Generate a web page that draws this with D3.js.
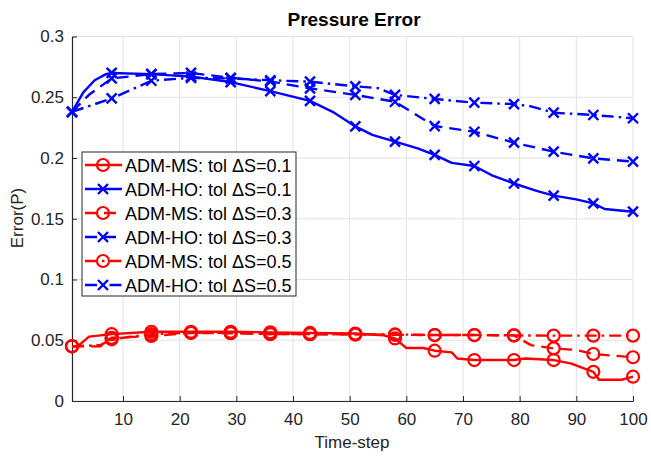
<!DOCTYPE html>
<html>
<head>
<meta charset="utf-8">
<script src="https://cdn.jsdelivr.net/npm/d3@7"></script>
<style>
body{ margin:0; background:#fff; }
svg{ font-family:"Liberation Sans", Arial, sans-serif; }
.grid line{ stroke:#e3e3e3; stroke-width:1; }
.axis path, .axis line{ stroke:#262626; }
.axis text{ fill:#262626; font-size:17px; }
</style>
</head>
<body>
<svg id="chart" width="651" height="457"></svg>
<script>

/// Data (time-step, error)
var xTicks = [10,20,30,40,50,60,70,80,90,100];
var yTicks = [0,0.05,0.1,0.15,0.2,0.25,0.3];
var markerSteps = [1,8,15,22,29,36,43,51,58,65,72,79,86,93,100];

var msSteps01 = [1,2,4,8,15,22,29,36,43,51,56,58,60,63,65,68,69,72,79,81,86,89,93,94,98,100];
var msVals01  = [0.045,0.045,0.053,0.055,0.057,0.057,0.057,0.0565,0.056,0.0555,0.054,0.0515,0.0436,0.0436,0.0414,0.040,0.035,0.0337,0.0337,0.035,0.0337,0.031,0.024,0.0175,0.0175,0.020];

var hoSteps01 = [1,3,5,7,8,15,22,29,36,43,47,51,54,58,62,65,68,72,75,79,83,86,90,93,95,100];
var hoVals01  = [0.238,0.254,0.264,0.269,0.270,0.269,0.267,0.2625,0.255,0.247,0.238,0.226,0.219,0.2134,0.208,0.2025,0.196,0.1934,0.186,0.179,0.173,0.169,0.166,0.1627,0.158,0.1558];

var msSteps03 = [1,6,8,15,22,29,36,43,51,58,65,72,79,82,86,90,93,100];
var msVals03  = [0.045,0.045,0.052,0.0535,0.056,0.0558,0.0552,0.055,0.0548,0.0545,0.0543,0.0543,0.054,0.046,0.0433,0.042,0.0387,0.036];

var hoSteps03 = [1,4,8,15,22,29,36,43,51,58,65,72,79,86,93,100];
var hoVals03  = [0.238,0.252,0.2655,0.269,0.270,0.266,0.263,0.2573,0.2519,0.2463,0.2263,0.2216,0.2126,0.2052,0.1997,0.197];

var msSteps05 = [1,6,8,15,22,29,36,43,51,58,65,72,79,86,93,100];
var msVals05  = [0.045,0.046,0.0508,0.055,0.0563,0.056,0.0551,0.0551,0.0548,0.0548,0.0543,0.0543,0.054,0.0538,0.0538,0.0538];

var hoSteps05 = [1,8,15,22,29,36,43,51,55,58,65,72,79,82,86,93,100];
var hoVals05  = [0.238,0.249,0.2636,0.266,0.2655,0.264,0.2628,0.259,0.2575,0.2519,0.2486,0.2455,0.2444,0.2425,0.2373,0.2354,0.2327];

var labels = ["ADM-MS: tol \u0394S=0.1","ADM-HO: tol \u0394S=0.1",
              "ADM-MS: tol \u0394S=0.3","ADM-HO: tol \u0394S=0.3",
              "ADM-MS: tol \u0394S=0.5","ADM-HO: tol \u0394S=0.5"];

var dashes = {solid:null, dashed:"12,7", dashdot:"12,5,2.5,5"};

var series = [
  {name:labels[0], steps:msSteps01, vals:msVals01, color:"#ff0000", mark:"o", dash:dashes.solid},
  {name:labels[1], steps:hoSteps01, vals:hoVals01, color:"#0000ff", mark:"x", dash:dashes.solid},
  {name:labels[2], steps:msSteps03, vals:msVals03, color:"#ff0000", mark:"o", dash:dashes.dashed},
  {name:labels[3], steps:hoSteps03, vals:hoVals03, color:"#0000ff", mark:"x", dash:dashes.dashed},
  {name:labels[4], steps:msSteps05, vals:msVals05, color:"#ff0000", mark:"o", dash:dashes.dashdot},
  {name:labels[5], steps:hoSteps05, vals:hoVals05, color:"#0000ff", mark:"x", dash:dashes.dashdot}
];

var svg = d3.select("#chart");
var margin = {top: 36.5, right: 18, bottom: 56, left: 72};
var width = +svg.attr("width") - margin.left - margin.right;
var height = +svg.attr("height") - margin.top - margin.bottom;

var g = svg.append("g").attr("transform", "translate(" + margin.left + "," + margin.top + ")");

var x = d3.scaleLinear().domain([1, 100]).range([0, width]);
var y = d3.scaleLinear().domain([0, 0.3]).range([height, 0]);

/// Grid
g.append("g").attr("class", "grid")
  .selectAll("line").data(xTicks).join("line")
    .attr("x1", d => x(d)).attr("x2", d => x(d))
    .attr("y1", 0).attr("y2", height);
g.append("g").attr("class", "grid")
  .selectAll("line").data(yTicks).join("line")
    .attr("x1", 0).attr("x2", width)
    .attr("y1", d => y(d)).attr("y2", d => y(d));

/// Axes (ticks pointing inward, matlab style)
var xAxis = d3.axisBottom(x).tickValues(xTicks).tickSize(-5).tickPadding(12).tickSizeOuter(0);
var yAxis = d3.axisLeft(y).tickValues(yTicks).tickSize(-5).tickPadding(8).tickSizeOuter(0)
    .tickFormat(d => d3.format("")(+d.toFixed(2)));

g.append("g").attr("class", "axis axis--x")
    .attr("transform", "translate(0," + height + ")")
    .call(xAxis)
    .call(a => a.select(".domain").attr("stroke-width", 1.2));
g.append("g").attr("class", "axis axis--y")
    .call(yAxis)
    .call(a => a.select(".domain").attr("stroke-width", 1.2));

/// Lines
var line = d3.line()
    .x(d => x(d[0]))
    .y(d => y(d[1]));

function drawMarker(sel, mark, color){
  if (mark === "o") {
    sel.append("circle").attr("r", 6).attr("fill", "none")
       .attr("stroke", color).attr("stroke-width", 2.2);
  } else {
    sel.append("path").attr("d", "M-5,-5L5,5M-5,5L5,-5").attr("fill", "none")
       .attr("stroke", color).attr("stroke-width", 2.4);
  }
}

series.forEach(function(s){
  var pts = s.steps.map((st, i) => [st, s.vals[i]]);
  g.append("path")
    .datum(pts)
    .attr("fill", "none")
    .attr("stroke", s.color)
    .attr("stroke-width", 2.4)
    .attr("stroke-linejoin", "round")
    .attr("stroke-dasharray", s.dash)
    .attr("d", line);
  var mpts = pts.filter(p => markerSteps.indexOf(p[0]) >= 0);
  g.append("g").selectAll("g").data(mpts).join("g")
    .attr("transform", d => "translate(" + x(d[0]) + "," + y(d[1]) + ")")
    .each(function(){ drawMarker(d3.select(this), s.mark, s.color); });
});

/// Legend
var lg = svg.append("g").attr("transform", "translate(82,152)");
lg.append("rect").attr("width", 214).attr("height", 144)
  .attr("fill", "#fff").attr("stroke", "#262626").attr("stroke-width", 1);
var items = lg.selectAll(".item").data(series).join("g")
    .attr("class", "item")
    .attr("transform", (d, i) => "translate(0," + (13 + i * 24) + ")");
items.append("line")
    .attr("x1", 3).attr("x2", 40).attr("y1", 0).attr("y2", 0)
    .attr("stroke", d => d.color).attr("stroke-width", 2.4)
    .attr("stroke-dasharray", d => d.dash);
items.each(function(d){
  var m = d3.select(this).append("g").attr("transform", "translate(21,0)");
  drawMarker(m, d.mark, d.color);
});
items.append("text")
    .attr("x", 43).attr("y", 6.5)
    .attr("font-size", "18px").attr("fill", "#000")
    .text(d => d.name);

/// Titles
svg.append("text").attr("x", 354).attr("y", 26)
   .attr("text-anchor", "middle").attr("font-size", "19px").attr("font-weight", "bold")
   .attr("fill", "#000").text("Pressure Error");
svg.append("text").attr("x", 352).attr("y", 448)
   .attr("text-anchor", "middle").attr("font-size", "17px")
   .attr("fill", "#262626").text("Time-step");
svg.append("text").attr("transform", "translate(23,218) rotate(-90)")
   .attr("text-anchor", "middle").attr("font-size", "17px")
   .attr("fill", "#262626").text("Error(P)");

</script>
</body>
</html>
